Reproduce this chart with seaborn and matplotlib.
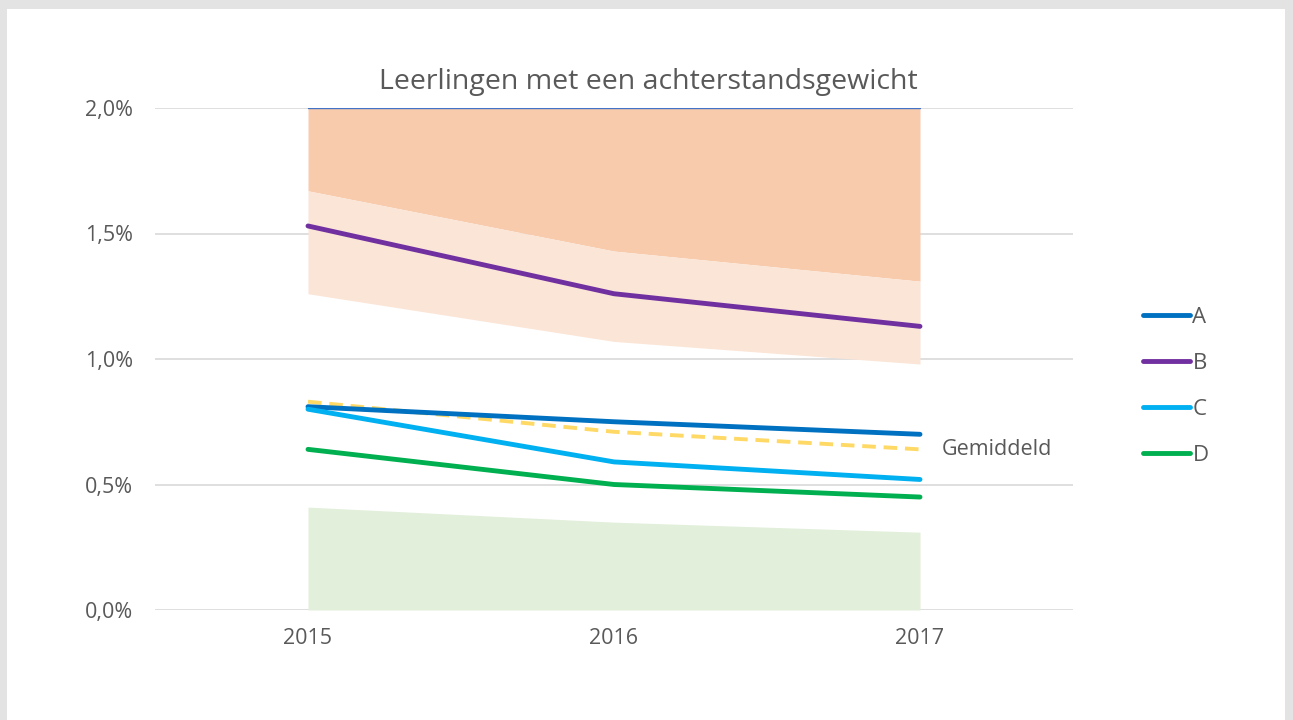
import matplotlib
matplotlib.use("Agg")
import matplotlib.pyplot as plt
import numpy as np
import pandas as pd
import seaborn as sns
from matplotlib.patches import Rectangle
from matplotlib.ticker import FuncFormatter

# data (percent)
jaren = [2015, 2016, 2017]
reeks_a = [0.81, 0.75, 0.70]
reeks_b = [1.53, 1.26, 1.13]
reeks_c = [0.80, 0.59, 0.52]
reeks_d = [0.64, 0.50, 0.45]
gemiddeld = [0.83, 0.71, 0.64]
band_boven = [1.67, 1.43, 1.31]   # lower edge of dark orange band (upper edge = 2.0)
band_midden = [1.26, 1.07, 0.98]  # lower edge of light orange band
band_onder = [0.41, 0.35, 0.31]   # upper edge of green band
band_max = [2.0, 2.0, 2.0]

kleuren = {"A": "#0070C0", "B": "#7030A0", "C": "#00B0F0", "D": "#00B050"}

df = pd.DataFrame({
    "jaar": jaren * 4,
    "waarde": reeks_a + reeks_b + reeks_c + reeks_d,
    "reeks": ["A"] * 3 + ["B"] * 3 + ["C"] * 3 + ["D"] * 3,
})
df_gem = pd.DataFrame({"jaar": jaren, "waarde": gemiddeld})

sns.set_theme(style="white")
plt.rcParams["font.family"] = ["Open Sans", "DejaVu Sans"]
tekst = "#595959"

fig = plt.figure(figsize=(12.93, 7.2), dpi=100)
fig.patch.set_facecolor("#E3E3E3")
fig.patches.append(Rectangle((7 / 1293, 0), 1278 / 1293, 711 / 720,
                             transform=fig.transFigure, facecolor="white",
                             edgecolor="none", zorder=-10))
ax = fig.add_axes([155 / 1293, 1 - 610 / 720, 918 / 1293, 502 / 720])
ax.set_facecolor("none")

# bands
ax.fill_between(jaren, band_boven, band_max, color="#F8CBAD", linewidth=0, zorder=1)
ax.fill_between(jaren, band_midden, band_boven, color="#FBE5D6", linewidth=0, zorder=1)
ax.fill_between(jaren, 0, band_onder, color="#E2EFDA", linewidth=0, zorder=1)
ax.plot(jaren, band_max, color="#4472C4", linewidth=1, zorder=2)

sns.lineplot(data=df_gem, x="jaar", y="waarde", color="#FFD966", linewidth=2.8,
             ax=ax, zorder=3, legend=False)
ax.lines[-1].set_linestyle((0, (3.5, 2)))
sns.lineplot(data=df, x="jaar", y="waarde", hue="reeks", palette=kleuren,
             linewidth=3.5, ax=ax, zorder=4)

ax.annotate("Gemiddeld", xy=(jaren[-1], gemiddeld[-1]), xytext=(16, 0),
            textcoords="offset points", va="center", ha="left",
            fontsize=15.5, color=tekst)

ax.set_xlim(2014.5, 2017.5)
ax.set_ylim(0, 2.0)
ax.set_xticks(jaren)
ax.set_yticks([0, 0.5, 1.0, 1.5, 2.0])
ax.yaxis.set_major_formatter(FuncFormatter(lambda v, p: f"{v:.1f}%".replace(".", ",")))
ax.yaxis.grid(True, color="#D9D9D9", linewidth=1.2, zorder=0)
ax.set_axisbelow(True)
for s in ax.spines.values():
    s.set_visible(False)
ax.tick_params(axis="both", length=0, labelsize=15.5, labelcolor=tekst)
ax.tick_params(axis="y", pad=16)
ax.tick_params(axis="x", pad=13)
ax.set_xlabel("")
ax.set_ylabel("")
ax.set_title("Leerlingen met een achterstandsgewicht", fontsize=20.5, color=tekst,
             pad=14, x=0.537)

leg = ax.legend(loc="center left", bbox_to_anchor=(1.055, 0.445), frameon=False,
                fontsize=16, handlelength=2.1, handletextpad=0.1, labelspacing=1.12,
                title=None)
for t in leg.get_texts():
    t.set_color(tekst)

fig.savefig("out.png", dpi=100, facecolor=fig.get_facecolor())
